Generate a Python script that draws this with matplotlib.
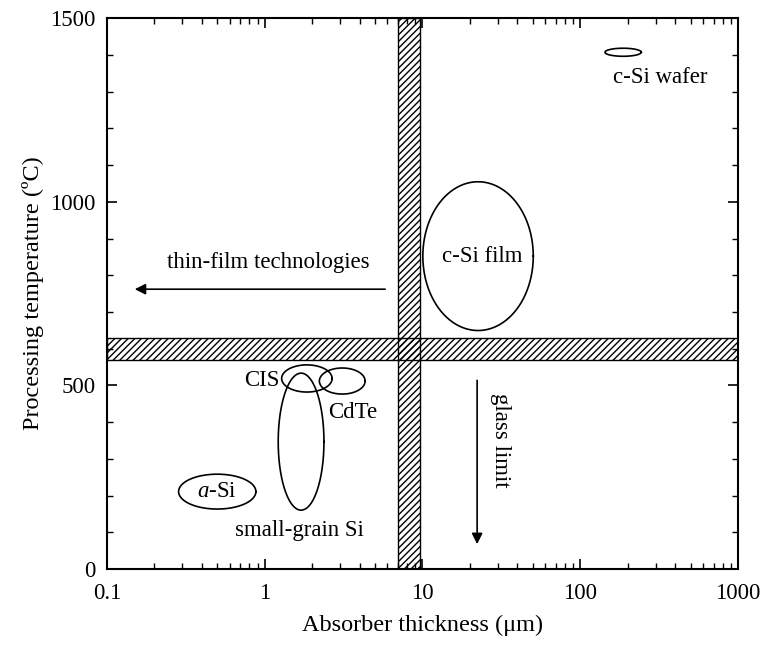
import matplotlib
matplotlib.use('Agg')
import matplotlib.pyplot as plt
import numpy as np

plt.rcParams['font.family'] = ['Liberation Serif', 'DejaVu Serif']
plt.rcParams['hatch.linewidth'] = 1.0
plt.rcParams['mathtext.fontset'] = 'custom'
plt.rcParams['mathtext.it'] = 'Liberation Serif:italic'
plt.rcParams['mathtext.rm'] = 'Liberation Serif'

# technology regions: centre thickness (um), centre temperature (C),
# width in decades of thickness, height in degrees
tech_names = ['c-Si wafer', 'c-Si film', 'CIS', 'CdTe', 'small-grain Si', 'a-Si']
center_thick = [187, 22.5, 1.85, 3.1, 1.70, 0.50]
center_temp = [1407, 852, 519, 512, 347, 211]
width_dec = [0.23, 0.70, 0.32, 0.29, 0.29, 0.49]
height_temp = [22, 405, 74, 71, 373, 95]

# labels placed next to (or inside) each region
label_text = ['c-Si wafer', 'c-Si film', 'CIS', 'CdTe', 'small-grain Si', '$a$-Si']
label_x = [321, 24, 0.96, 3.6, 1.67, 0.50]
label_y = [1339, 852, 514, 427, 106, 211]

# processing limits: glass softening temperature band and thickness band
glass_band = (570, 630)
thick_band = (7.0, 9.7)

fig = plt.figure(figsize=(7.64, 6.46), dpi=100)
ax = fig.add_axes([0.140, 0.119, 0.826, 0.853])
ax.set_xscale('log')
ax.set_xlim(0.1, 1000)
ax.set_ylim(0, 1500)

ax.axhspan(glass_band[0], glass_band[1], facecolor='none', edgecolor='black',
           hatch='/////', linewidth=1.0)
ax.axvspan(thick_band[0], thick_band[1], facecolor='none', edgecolor='black',
           hatch='/////', linewidth=1.0)

t = np.linspace(0, 2 * np.pi, 200)
for cx, cy, w, h in zip(center_thick, center_temp, width_dec, height_temp):
    xs = 10 ** (np.log10(cx) + w / 2 * np.cos(t))
    ys = cy + h / 2 * np.sin(t)
    ax.plot(xs, ys, color='black', lw=1.2)

for txt, x, y in zip(label_text, label_x, label_y):
    ax.text(x, y, txt, ha='center', va='center', fontsize=16.5)

# thin-film arrow and glass limit arrow
ax.annotate('', xy=(0.15, 762), xytext=(5.8, 762),
            arrowprops=dict(arrowstyle='-|>', color='black', lw=1.2,
                            mutation_scale=16, shrinkA=0, shrinkB=0))
ax.text(1.05, 836, 'thin-film technologies', ha='center', va='center', fontsize=16.5)
ax.annotate('', xy=(22.2, 68), xytext=(22.2, 514),
            arrowprops=dict(arrowstyle='-|>', color='black', lw=1.2,
                            mutation_scale=16, shrinkA=0, shrinkB=0))
ax.text(31, 351, 'glass limit', ha='center', va='center', fontsize=16.5, rotation=-90)

ax.set_xticks([0.1, 1, 10, 100, 1000])
ax.set_xticklabels(['0.1', '1', '10', '100', '1000'])
ax.set_yticks([0, 500, 1000, 1500])
ax.set_yticks(np.arange(0, 1501, 100), minor=True)
ax.tick_params(which='both', direction='in', top=True, right=True, labelsize=16.5)
ax.tick_params(which='major', length=7, width=1.2)
ax.tick_params(axis='x', which='major', pad=10)
ax.tick_params(axis='y', which='major', pad=8)
ax.tick_params(which='minor', length=4, width=1.0)
for s in ax.spines.values():
    s.set_linewidth(1.5)

ax.set_xlabel('Absorber thickness (\u03bcm)', fontsize=17.5, labelpad=8)
ax.set_ylabel('Processing temperature (\u00baC)', fontsize=17.5, labelpad=5)

fig.savefig('out.png', dpi=100)
